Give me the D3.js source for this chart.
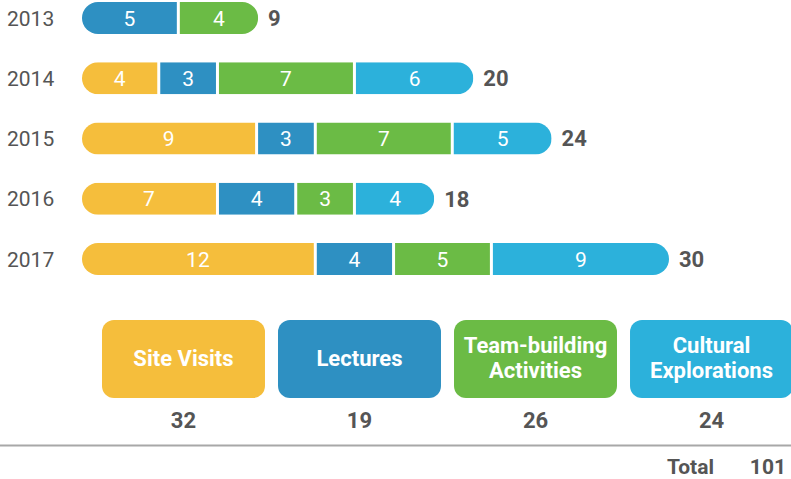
<!DOCTYPE html>
<html>
<head>
<meta charset="utf-8">
<script src="https://cdn.jsdelivr.net/npm/d3@7"></script>
<style>
  html, body { margin: 0; padding: 0; background: #fff; }
  svg { display: block; font-family: Roboto, "Noto Sans", sans-serif; }
</style>
</head>
<body>
<svg id="chart" width="791" height="479"></svg>
<script>
// data
var years = ['2013', '2014', '2015', '2016', '2017'];
var categories = ['Site Visits', 'Lectures', 'Team-building Activities', 'Cultural Explorations'];
var siteVisits = [0, 4, 9, 7, 12];
var lectures = [5, 3, 3, 4, 4];
var teamBuilding = [4, 7, 7, 3, 5];
var cultural = [0, 6, 5, 4, 9];
var colors = ['#F5BE3C', '#2E90C2', '#6BBB45', '#2CB1DB'];

var series = [siteVisits, lectures, teamBuilding, cultural];
var rows = years.map(function(y, i) {
    return {year: y, values: series.map(function(s) { return s[i]; })};
});
var catTotals = series.map(function(s) { return d3.sum(s); });
var grandTotal = d3.sum(catTotals);

var svg = d3.select('#chart'),
    TEXT = '#555',
    BAR_H = 32,
    GAP = 3;

var x = d3.scaleLinear().domain([0, 30]).range([82, 669]);
var y = d3.scalePoint().domain(years).range([18, 259]);

var defs = svg.append('defs');

rows.forEach(function(row, i) {
    var total = d3.sum(row.values);
    var cy = y(row.year);
    var top = cy - BAR_H / 2;

    defs.append('clipPath').attr('id', 'clip' + i)
        .append('rect')
        .attr('x', x(0)).attr('y', top)
        .attr('width', x(total) - x(0)).attr('height', BAR_H)
        .attr('rx', BAR_H / 2).attr('ry', BAR_H / 2);

    var g = svg.append('g').attr('clip-path', 'url(#clip' + i + ')');

    // only non-zero segments are drawn
    var segs = [];
    var acc = 0;
    row.values.forEach(function(v, k) {
        if (v > 0) {
            segs.push({k: k, v: v, x0: acc, x1: acc + v});
            acc += v;
        }
    });

    segs.forEach(function(s, j) {
        var last = j === segs.length - 1;
        var w = x(s.x1) - x(s.x0) - (last ? 0 : GAP);
        g.append('rect')
            .attr('x', x(s.x0)).attr('y', top)
            .attr('width', w).attr('height', BAR_H)
            .attr('fill', colors[s.k]);
        svg.append('text')
            .attr('x', x(s.x0) + w / 2).attr('y', cy)
            .attr('dy', '0.36em')
            .attr('text-anchor', 'middle')
            .attr('fill', '#fff')
            .style('font-size', '21px')
            .text(s.v);
    });

    svg.append('text')
        .attr('x', 7).attr('y', cy).attr('dy', '0.36em')
        .attr('fill', TEXT)
        .style('font-size', '21px')
        .text(row.year);

    svg.append('text')
        .attr('x', x(total) + 10).attr('y', cy).attr('dy', '0.36em')
        .attr('fill', TEXT)
        .style('font-size', '22px').style('font-weight', 'bold')
        .text(total);
});

// legend boxes with category totals
var legendX = d3.scaleBand().domain(categories).range([102, 793]).paddingInner(0.074);
var legendLines = [['Site Visits'], ['Lectures'], ['Team-building', 'Activities'], ['Cultural', 'Explorations']];

categories.forEach(function(c, k) {
    var bx = legendX(c), bw = legendX.bandwidth();
    svg.append('rect')
        .attr('x', bx).attr('y', 320)
        .attr('width', bw).attr('height', 78)
        .attr('rx', 12).attr('ry', 12)
        .attr('fill', colors[k]);
    var lines = legendLines[k];
    lines.forEach(function(l, j) {
        svg.append('text')
            .attr('x', bx + bw / 2)
            .attr('y', 358 + (j - (lines.length - 1) / 2) * 25)
            .attr('dy', '0.36em')
            .attr('text-anchor', 'middle')
            .attr('fill', '#fff')
            .style('font-size', '22px').style('font-weight', 'bold')
            .text(l);
    });
    svg.append('text')
        .attr('x', bx + bw / 2).attr('y', 420).attr('dy', '0.36em')
        .attr('text-anchor', 'middle')
        .attr('fill', TEXT)
        .style('font-size', '22px').style('font-weight', 'bold')
        .text(catTotals[k]);
});

svg.append('line')
    .attr('x1', 0).attr('x2', 791)
    .attr('y1', 445.5).attr('y2', 445.5)
    .attr('stroke', '#a8a8a8').attr('stroke-width', 2);

svg.append('text')
    .attr('x', 714).attr('y', 466).attr('dy', '0.36em')
    .attr('text-anchor', 'end')
    .attr('fill', TEXT)
    .style('font-size', '21px').style('font-weight', 'bold')
    .text('Total');

svg.append('text')
    .attr('x', 786).attr('y', 466).attr('dy', '0.36em')
    .attr('text-anchor', 'end')
    .attr('fill', TEXT)
    .style('font-size', '21px').style('font-weight', 'bold')
    .text(grandTotal);
</script>
</body>
</html>
